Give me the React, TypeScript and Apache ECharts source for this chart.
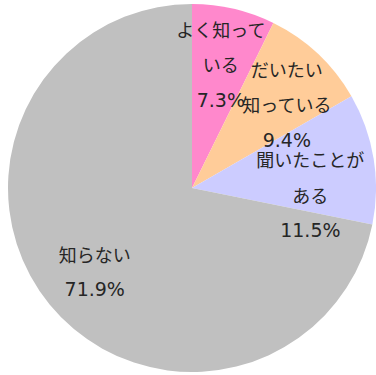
import React, { useEffect, useRef } from "react";
import * as echarts from "echarts";

const categories = ["よく知っている", "だいたい知っている", "聞いたことがある", "知らない"];
const values = [7.3, 9.4, 11.5, 71.9];
// label line breaks (character index where the name wraps; 0 = no wrap)
const labelBreaks = [5, 4, 6, 0];
const colors = ["#FF88CC", "#FFCC99", "#CCCCFF", "#C0C0C0"];
const labelOffsets = [
  [0, 0],
  [8, 9],
  [-7, 27],
  [1, 3],
];

export default function App() {
  const ref = useRef<HTMLDivElement>(null);
  useEffect(() => {
    if (!ref.current) return;
    const chart = echarts.init(ref.current, undefined, { renderer: "svg" });
    const formatter = (p: any) => {
      const i = p.dataIndex;
      const name = categories[i];
      const b = labelBreaks[i];
      const lines = b > 0 ? [name.slice(0, b), name.slice(b)] : [name];
      return lines.map((l) => `{n|${l}}`).join("\n") + `\n{p|${values[i].toFixed(1)}%}`;
    };
    chart.setOption({
      animation: false,
      series: [
        {
          type: "pie",
          center: [192, 188],
          radius: 184,
          startAngle: 90,
          silent: true,
          label: { show: false },
          labelLine: { show: false },
          itemStyle: { borderWidth: 0 },
          data: categories.map((c, i) => ({
            name: c,
            value: values[i],
            itemStyle: { color: colors[i] },
          })),
        },
        {
          type: "pie",
          center: [192, 188],
          radius: [64, 184],
          startAngle: 90,
          silent: true,
          avoidLabelOverlap: false,
          labelLayout: { hideOverlap: false },
          itemStyle: { color: "transparent", borderWidth: 0 },
          labelLine: { show: false },
          label: {
            show: true,
            position: "inside",
            formatter,
            color: "#262626",
            rich: {
              n: {
                fontFamily: "Noto Sans CJK JP",
                fontSize: 18,
                lineHeight: 35.5,
                color: "#262626",
              },
              p: {
                fontFamily: "DejaVu Sans",
                fontSize: 19,
                lineHeight: 35.5,
                color: "#262626",
              },
            },
          },
          data: categories.map((c, i) => ({
            name: c,
            value: values[i],
            label: { offset: labelOffsets[i] },
          })),
        },
      ],
    });
    return () => chart.dispose();
  }, []);
  return (
    <div
      ref={ref}
      style={{ position: "fixed", left: 0, top: 0, width: 376, height: 375, background: "#fff" }}
    />
  );
}
